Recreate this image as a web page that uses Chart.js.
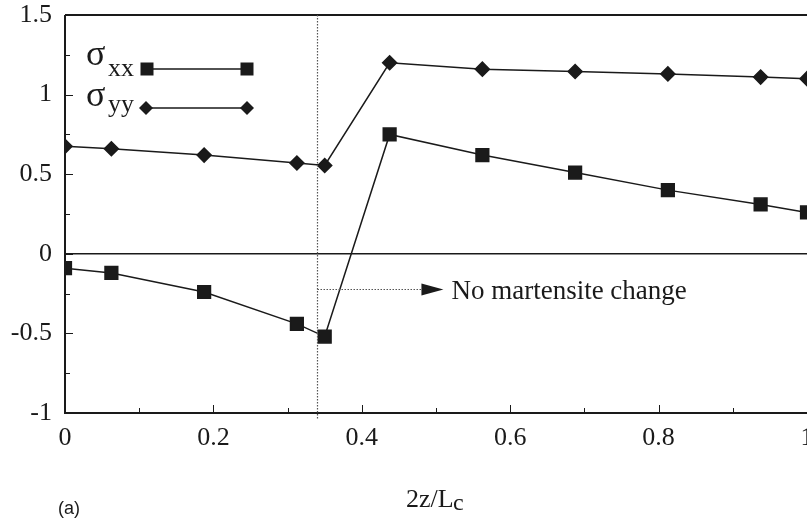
<!DOCTYPE html>
<html>
<head>
<meta charset="utf-8">
<script src="https://cdn.jsdelivr.net/npm/chart.js@4/dist/chart.umd.min.js"></script>
<style>
  html, body { margin: 0; padding: 0; background: #fff; overflow: hidden; }
  #wrap { width: 807px; height: 518px; }
</style>
</head>
<body>
<div id="wrap"><canvas id="stress" width="807" height="518"></canvas></div>
<script>
// positions along the cell, 2z/Lc
const zPos = [0, 0.0625, 0.1875, 0.3125, 0.35, 0.4375, 0.5625, 0.6875, 0.8125, 0.9375, 1.0];
// normalised stresses
const sigmaXX = [-0.09, -0.12, -0.24, -0.44, -0.52, 0.75, 0.62, 0.51, 0.40, 0.31, 0.26];
const sigmaYY = [0.675, 0.66, 0.62, 0.57, 0.555, 1.20, 1.16, 1.145, 1.13, 1.11, 1.10];

// where the martensite boundary sits and the annotation arrow
const boundaryZ = 0.34;
const arrowY = -0.22;
const arrowEndZ = 0.51;
const noteText = "No martensite change";

const ink = "#1a1a1a";
const serif = "'Liberation Serif', 'Times New Roman', serif";

const toPoints = (ys) => zPos.map((z, i) => ({ x: z, y: ys[i] }));
const plainNumber = (v) => String(+Number(v).toFixed(2));

// draws inward ticks, frame, annotations and the hand-made legend
const decorations = {
    id: "decorations",
    afterDatasetsDraw(chart) {
        const ctx = chart.ctx;
        const area = chart.chartArea;
        const xs = chart.scales.x;
        const ys = chart.scales.y;
        ctx.save();

        // frame: left, bottom, top
        ctx.strokeStyle = ink;
        ctx.lineWidth = 2;
        ctx.beginPath();
        ctx.moveTo(area.left, area.top);
        ctx.lineTo(area.right, area.top);
        ctx.moveTo(area.left, area.top);
        ctx.lineTo(area.left, area.bottom);
        ctx.lineTo(area.right, area.bottom);
        ctx.stroke();

        // zero line
        ctx.lineWidth = 1.5;
        const y0 = ys.getPixelForValue(0);
        ctx.beginPath();
        ctx.moveTo(area.left, y0);
        ctx.lineTo(area.right, y0);
        ctx.stroke();

        // inward ticks
        ctx.lineWidth = 1;
        for (let v = -1; v <= 1.5001; v += 0.25) {
            const py = Math.round(ys.getPixelForValue(v)) + 0.5;
            const len = Math.abs(v * 2 - Math.round(v * 2)) < 1e-6 ? 8 : 5;
            ctx.beginPath();
            ctx.moveTo(area.left, py);
            ctx.lineTo(area.left + len, py);
            ctx.stroke();
        }
        for (let v = 0; v <= 1.0001; v += 0.1) {
            const px = Math.round(xs.getPixelForValue(v)) + 0.5;
            const len = Math.abs(v * 5 - Math.round(v * 5)) < 1e-6 ? 8 : 5;
            ctx.beginPath();
            ctx.moveTo(px, area.bottom);
            ctx.lineTo(px, area.bottom - len);
            ctx.stroke();
        }

        // dotted boundary line
        const bx = Math.round(xs.getPixelForValue(boundaryZ)) + 0.5;
        ctx.strokeStyle = "#555";
        ctx.lineWidth = 1.2;
        ctx.setLineDash([1.5, 1.5]);
        ctx.beginPath();
        ctx.moveTo(bx, area.top);
        ctx.lineTo(bx, area.bottom + 7);
        ctx.stroke();

        // dotted arrow
        const ay = Math.round(ys.getPixelForValue(arrowY)) + 0.5;
        const ax = xs.getPixelForValue(arrowEndZ);
        ctx.beginPath();
        ctx.moveTo(bx, ay);
        ctx.lineTo(ax - 20, ay);
        ctx.stroke();
        ctx.setLineDash([]);
        ctx.fillStyle = ink;
        ctx.beginPath();
        ctx.moveTo(ax, ay);
        ctx.lineTo(ax - 22, ay - 6);
        ctx.lineTo(ax - 22, ay + 6);
        ctx.closePath();
        ctx.fill();

        ctx.font = "27px " + serif;
        ctx.textBaseline = "alphabetic";
        ctx.textAlign = "left";
        ctx.fillText(noteText, ax + 8, ay + 9);

        // legend
        const drawSquare = (x, y) => ctx.fillRect(x - 6.5, y - 6.5, 13, 13);
        const drawDiamond = (x, y) => {
            ctx.beginPath();
            ctx.moveTo(x, y - 7);
            ctx.lineTo(x + 7, y);
            ctx.lineTo(x, y + 7);
            ctx.lineTo(x - 7, y);
            ctx.closePath();
            ctx.fill();
        };
        ctx.strokeStyle = ink;
        ctx.lineWidth = 1.5;
        ctx.beginPath();
        ctx.moveTo(147, 69);
        ctx.lineTo(247, 69);
        ctx.moveTo(146, 108);
        ctx.lineTo(247, 108);
        ctx.stroke();
        drawSquare(147, 69);
        drawSquare(247, 69);
        drawDiamond(146, 108);
        drawDiamond(247, 108);

        ctx.font = "36px " + serif;
        ctx.fillText("\u03c3", 86, 65);
        ctx.fillText("\u03c3", 86, 106);
        ctx.font = "26px " + serif;
        ctx.fillText("xx", 108, 76);
        ctx.fillText("yy", 108, 112);

        // axis title with subscript
        ctx.font = "26px " + serif;
        ctx.fillText("2z/L", 406, 507);
        ctx.font = "24px " + serif;
        ctx.fillText("c", 453, 510);

        // panel label
        ctx.font = "18px 'Liberation Sans', Arial, sans-serif";
        ctx.fillText("(a)", 58, 514);

        ctx.restore();
    },
};

new Chart(document.getElementById("stress"), {
    type: "scatter",
    plugins: [decorations],
    data: {
        datasets: [
            {
                label: "σxx",
                data: toPoints(sigmaXX),
                showLine: true,
                borderColor: ink,
                backgroundColor: ink,
                borderWidth: 1.5,
                pointStyle: "rect",
                pointRadius: 9,
                pointHoverRadius: 9,
            },
            {
                label: "σyy",
                data: toPoints(sigmaYY),
                showLine: true,
                borderColor: ink,
                backgroundColor: ink,
                borderWidth: 1.5,
                pointStyle: "rectRot",
                pointRadius: 7,
                pointHoverRadius: 7,
            },
        ],
    },
    options: {
        responsive: false,
        devicePixelRatio: 1,
        animation: false,
        layout: { autoPadding: false, padding: { top: 15, right: 0, left: 0, bottom: 0 } },
        plugins: {
            legend: { display: false },
            tooltip: { enabled: false },
        },
        scales: {
            x: {
                type: "linear",
                min: 0,
                max: 1,
                grid: { display: false, drawTicks: false },
                border: { display: false },
                ticks: {
                    stepSize: 0.2,
                    padding: 10,
                    color: ink,
                    font: { family: serif, size: 26 },
                    maxRotation: 0,
                    callback: plainNumber,
                },
                afterFit(scale) {
                    scale.height = 105;
                    scale.paddingLeft = 0;
                    scale.paddingRight = 0;
                },
            },
            y: {
                min: -1,
                max: 1.5,
                grid: { display: false, drawTicks: false },
                border: { display: false },
                ticks: {
                    stepSize: 0.5,
                    padding: 13,
                    color: ink,
                    font: { family: serif, size: 26 },
                    callback: plainNumber,
                },
                afterFit(scale) {
                    scale.width = 65;
                    scale.paddingTop = 0;
                    scale.paddingBottom = 0;
                },
            },
        },
    },
});
</script>
</body>
</html>
